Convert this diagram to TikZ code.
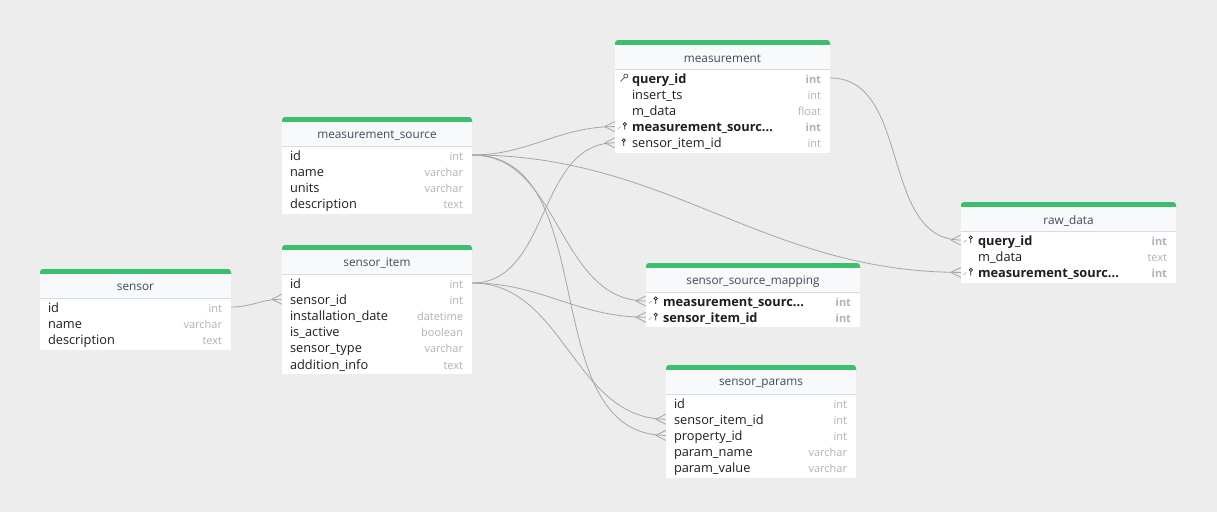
\documentclass[tikz,border=0pt]{standalone}
\usepackage{fontspec}
\setmainfont{Open Sans}
\usepackage{tikz}
\usetikzlibrary{positioning}

\definecolor{bgcol}{HTML}{EDEDED}
\definecolor{tabgreen}{HTML}{3DBE6E}
\definecolor{headcol}{HTML}{F8F9FB}
\definecolor{sepcol}{HTML}{D3DCE8}
\definecolor{titlecol}{HTML}{3E4A5C}
\definecolor{fieldcol}{HTML}{1E1E1E}
\definecolor{typecol}{HTML}{B2B2B2}
\definecolor{linkcol}{HTML}{A6A6A6}

\newcommand{\cutoff}{...}

\tikzset{
  rowbox/.style={inner sep=0pt, minimum height=16.2pt, fill=white},
  fieldtext/.style={inner sep=0pt, anchor=mid west, yshift=-2.4pt, text=fieldcol, font=\fontsize{12.8}{14}\selectfont},
  typetext/.style={inner sep=0pt, anchor=mid east, yshift=-2.4pt, text=typecol, font=\fontsize{11}{13}\selectfont},
  titletext/.style={inner sep=0pt, text=titlecol, font=\fontsize{11.8}{14}\selectfont},
  link/.style={draw=linkcol, line width=0.8pt},
  iconline/.style={line width=0.7pt},
}

% #1 name, #2 title, #3 left, #4 top, #5 width, #6 rows, #7 indent, #8 fields
\newcommand{\dbtable}[8]{%
  \fill[tabgreen, rounded corners=3pt] (#3,#4) rectangle ++(#5,10);
  \fill[headcol] (#3,#4+5) rectangle ++(#5,24.5);
  \fill[white] (#3,#4+29.5) rectangle ++(#5,{16.2*#6+2.5});
  \draw[sepcol, line width=0.8pt] (#3,#4+29.5) -- ++(#5,0);
  \node[titletext] (#1) at (#3+#5/2,#4+18.5) {#2};
  \foreach \fld/\typ/\ico [count=\i] in {#8} {
    \node[rowbox, minimum width=#5pt] (#1-\i) at (#3+#5/2,#4+29.5+8.5+16.2*\i-16.2) {};
    \ifcase\ico
      \def\rowfont{}%
    \or
      \def\rowfont{\bfseries}%
      \draw[iconline, fieldcol!80] (#1-\i.west) ++(11,-2) circle (2pt) ++(-1.4,1.4) -- ++(-4,4);
    \or
      \def\rowfont{\bfseries}%
      \draw[iconline, typecol] (#1-\i.west) ++(3,2.5) -- ++(2.5,-2.5);
      \draw[iconline, fieldcol] (#1-\i.west) ++(10,-2.5) circle (1.6pt) ++(0,1.6) -- ++(0,4);
    \or
      \def\rowfont{}%
      \draw[iconline, fieldcol] (#1-\i.west) ++(9,-2.5) circle (1.6pt) ++(0,1.6) -- ++(0,4);
    \fi
    \node[fieldtext] (#1-\i-f) at ([xshift=#7pt]#1-\i.west) {\rowfont\fld};
    \node[typetext] (#1-\i-t) at ([xshift=-9pt]#1-\i.east) {\rowfont\typ};
  }
}

\begin{document}
\begin{tikzpicture}[x=1pt, y=-1pt]
\useasboundingbox (0,0) rectangle (1217,512);
\fill[bgcol] (0,0) rectangle (1217,512);

\dbtable{m}{measurement}{615}{40}{215}{5}{17}{query\_id/int/1, insert\_ts/int/0, m\_data/float/0, measurement\_sourc\cutoff/int/2, sensor\_item\_id/int/3}
\dbtable{ms}{measurement\_source}{282}{117}{190}{4}{8}{id/int/0, name/varchar/0, units/varchar/0, description/text/0}
\dbtable{si}{sensor\_item}{282}{245}{190}{6}{8}{id/int/0, sensor\_id/int/0, installation\_date/datetime/0, is\_active/boolean/0, sensor\_type/varchar/0, addition\_info/text/0}
\dbtable{s}{sensor}{40}{269}{191}{3}{8}{id/int/0, name/varchar/0, description/text/0}
\dbtable{ssm}{sensor\_source\_mapping}{646}{263}{214}{2}{17}{measurement\_sourc\cutoff/int/2, sensor\_item\_id/int/2}
\dbtable{sp}{sensor\_params}{666}{365}{190}{5}{8}{id/int/0, sensor\_item\_id/int/0, property\_id/int/0, param\_name/varchar/0, param\_value/varchar/0}
\dbtable{rd}{raw\_data}{961}{202}{215}{3}{17}{query\_id/int/2, m\_data/text/0, measurement\_sourc\cutoff/int/2}

% relations, crow foot on the many side
\foreach \a/\b in {s-1/si-2, ms-1/m-4, si-1/m-5, ms-1/rd-3, ms-1/ssm-1, si-1/ssm-2, si-1/sp-2, ms-1/sp-3, m-1/rd-1} {
  \draw[link] (\a.east) to[out=0, in=180] (\b.west);
  \draw[link] (\b.west) ++(-10,0) -- ++(10,-5) ++(-10,5) -- ++(10,5);
}
\end{tikzpicture}
\end{document}
